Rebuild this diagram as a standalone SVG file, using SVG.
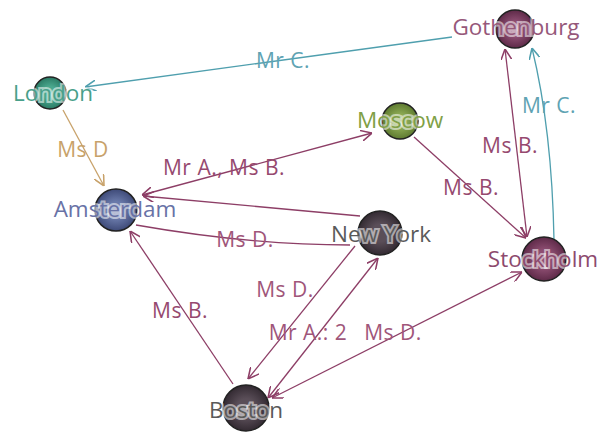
<svg xmlns="http://www.w3.org/2000/svg" width="600" height="434" viewBox="0 0 600 434">
<style>
.e{fill:none;stroke-width:1.3}
.m{stroke:#8d3e66}
.t{stroke:#4f9fae}
.n{stroke:#c8a26a}
.el{font-family:"Open Sans","DejaVu Sans",sans-serif;font-size:21px;letter-spacing:0.5px;text-anchor:middle}
.nl{font-family:"Open Sans","DejaVu Sans",sans-serif;font-size:22.5px;text-anchor:middle;paint-order:stroke;stroke:#fff;stroke-width:4;stroke-opacity:0.55}
.c{stroke:#222;stroke-width:1.5}
</style>
<defs>
<marker id="am" viewBox="0 0 10 10" refX="10" refY="5" markerWidth="11" markerHeight="11" markerUnits="userSpaceOnUse" orient="auto-start-reverse"><path d="M0,0 L10,5 L0,10" fill="none" stroke="#8d3e66" stroke-width="1.4"/></marker>
<marker id="at" viewBox="0 0 10 10" refX="10" refY="5" markerWidth="11" markerHeight="11" markerUnits="userSpaceOnUse" orient="auto-start-reverse"><path d="M0,0 L10,5 L0,10" fill="none" stroke="#4f9fae" stroke-width="1.4"/></marker>
<marker id="an" viewBox="0 0 10 10" refX="10" refY="5" markerWidth="11" markerHeight="11" markerUnits="userSpaceOnUse" orient="auto-start-reverse"><path d="M0,0 L10,5 L0,10" fill="none" stroke="#c8a26a" stroke-width="1.4"/></marker>
<radialGradient id="gL" cx="0.5" cy="0.5" r="0.5"><stop offset="0.4" stop-color="#4aa88e"/><stop offset="1" stop-color="#2a7a64"/></radialGradient>
<radialGradient id="gA" cx="0.5" cy="0.5" r="0.5"><stop offset="0.4" stop-color="#6a7aaa"/><stop offset="1" stop-color="#3e4a78"/></radialGradient>
<radialGradient id="gM" cx="0.5" cy="0.5" r="0.5"><stop offset="0.4" stop-color="#8aa852"/><stop offset="1" stop-color="#5e7a30"/></radialGradient>
<radialGradient id="gP" cx="0.5" cy="0.5" r="0.5"><stop offset="0.4" stop-color="#8e4e72"/><stop offset="1" stop-color="#5e2a48"/></radialGradient>
<radialGradient id="gG" cx="0.5" cy="0.5" r="0.5"><stop offset="0.4" stop-color="#5a4e58"/><stop offset="1" stop-color="#332a32"/></radialGradient>
</defs>
<g id="connectors">
<path class="e t" d="M452,37 L85,87" marker-end="url(#at)"/>
<path class="e n" d="M63,110 L104,186" marker-end="url(#an)"/>
<path class="e m" d="M372,133 L142,195" marker-start="url(#am)" marker-end="url(#am)"/>
<path class="e m" d="M360,216 L143,196" marker-end="url(#am)"/>
<path class="e m" d="M350,245 Q250,245 136,225"/>
<path class="e m" d="M233,384 L130,231" marker-end="url(#am)"/>
<path class="e m" d="M355,246 L248,379" marker-end="url(#am)"/>
<path class="e m" d="M268,398 L378,258" marker-start="url(#am)" marker-end="url(#am)"/>
<path class="e m" d="M272,398 L522,272" marker-start="url(#am)" marker-end="url(#am)"/>
<path class="e m" d="M414,137 L526,238" marker-end="url(#am)"/>
<path class="e m" d="M505,49 L527,237" marker-start="url(#am)" marker-end="url(#am)"/>
<path class="e t" d="M554,240 Q552,130 532,48" marker-end="url(#at)"/>
<text class="el" x="283" y="68" fill="#5fa3b3">Mr C.</text>
<text class="el" x="83" y="157" fill="#c8a26a">Ms D</text>
<text class="el" x="224" y="175" fill="#96496f">Mr A., Ms B.</text>
<text class="el" x="245" y="247" fill="#a0567a">Ms D.</text>
<text class="el" x="285" y="297" fill="#a0567a">Ms D.</text>
<text class="el" x="308" y="340" fill="#a0567a">Mr A.: 2</text>
<text class="el" x="393" y="340" fill="#a0567a">Ms D.</text>
<text class="el" x="180" y="318" fill="#96496f">Ms B.</text>
<text class="el" x="471" y="195" fill="#96496f">Ms B.</text>
<text class="el" x="510" y="153" fill="#96496f">Ms B.</text>
<text class="el" x="549" y="113" fill="#5fa3b3">Mr C.</text>
</g>
<g id="london"><circle class="c" cx="50" cy="93" r="16" fill="url(#gL)"/><text class="nl" x="53" y="101" fill="#49a08a">London</text></g>
<g id="amsterdam"><circle class="c" cx="116" cy="210" r="21" fill="url(#gA)"/><text class="nl" x="115" y="217" fill="#6872a6">Amsterdam</text></g>
<g id="moscow"><circle class="c" cx="400" cy="121" r="18" fill="url(#gM)"/><text class="nl" x="400" y="128" fill="#80a046">Moscow</text></g>
<g id="gothenburg"><circle class="c" cx="515" cy="29" r="19" fill="url(#gP)"/><text class="nl" x="516" y="35" fill="#96587a">Gothenburg</text></g>
<g id="newyork"><circle class="c" cx="380" cy="233" r="22" fill="url(#gG)"/><text class="nl" x="381" y="242" fill="#5a5a5a">New York</text></g>
<g id="stockholm"><circle class="c" cx="544" cy="259" r="22" fill="url(#gP)"/><text class="nl" x="543" y="267" fill="#8d4a6e">Stockholm</text></g>
<g id="boston"><circle class="c" cx="246" cy="408" r="23" fill="url(#gG)"/><text class="nl" x="246" y="418" fill="#5a5a5a">Boston</text></g>
</svg>
